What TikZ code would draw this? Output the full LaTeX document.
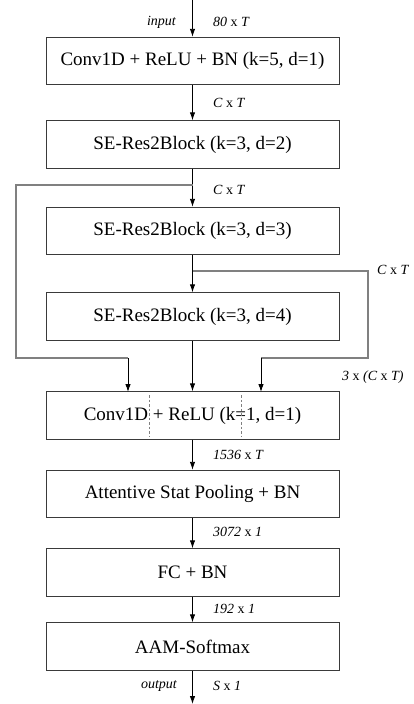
\documentclass[tikz,border=0pt]{standalone}
\usepackage{fontspec}
\setmainfont{Liberation Serif}
\usetikzlibrary{arrows.meta}
\definecolor{boxline}{HTML}{3A3A3A}
\definecolor{skipline}{HTML}{808080}
\begin{document}
\begin{tikzpicture}[x=1pt,y=-1pt,
  blk/.style={draw=boxline,line width=0.9pt,minimum width=293pt,minimum height=47.5pt,inner sep=0pt,font=\fontsize{19}{21}\selectfont},
  flow/.style={draw=black,line width=0.9pt,-{Latex[length=8pt,width=5.5pt]}},
  skipc/.style={draw=skipline,line width=1.1pt},
  lbl/.style={font=\fontsize{14}{16}\selectfont\itshape,inner sep=0pt},
  sep/.style={draw=skipline,line width=0.8pt,dashed,dash pattern=on 2.5pt off 2pt}]
\useasboundingbox (0,0) rectangle (414,704);
\node[blk] (b1) at (192.5,61) {Conv1D + ReLU + BN (k=5, d=1)};
\node[blk] (b2) at (192.5,144.5) {SE-Res2Block (k=3, d=2)};
\node[blk] (b3) at (192.5,231) {SE-Res2Block (k=3, d=3)};
\node[blk] (b4) at (192.5,316.5) {SE-Res2Block (k=3, d=4)};
\node[blk] (b5) at (192.5,415.5) {Conv1D + ReLU (k=1, d=1)};
\node[blk] (b6) at (192.5,494) {Attentive Stat Pooling + BN};
\node[blk] (b7) at (192.5,572.5) {FC + BN};
\node[blk] (b8) at (192.5,646.5) {AAM-Softmax};
% dashed separators in b5
\coordinate (d1t) at (149,395); \coordinate (d1b) at (149,437);
\coordinate (d2t) at (241,395); \coordinate (d2b) at (241,437);
\draw[sep] (d1t) -- (d1b);
\draw[sep] (d2t) -- (d2b);
% input / output
\coordinate (in) at (192.5,0);
\coordinate (out) at (192.5,704);
\draw[flow] (in) -- (b1.north);
\draw[flow] (b8.south) -- (out);
\draw[flow] (b1.south) -- (b2.north);
\draw[flow] (b2.south) -- (b3.north);
\draw[flow] (b3.south) -- (b4.north);
\draw[flow] (b4.south) -- (b5.north);
\draw[flow] (b5.south) -- (b6.north);
\draw[flow] (b6.south) -- (b7.north);
\draw[flow] (b7.south) -- (b8.north);
% skip connections
\coordinate (j1) at (192.5,185);
\coordinate (l1) at (16,185);
\coordinate (l2) at (16,358);
\coordinate (l3) at (128,358);
\coordinate (l4) at (128,392);
\draw[skipc] (j1) -- (l1) -- (l2) -- (l3);
\draw[flow] (l3) -- (l4);
\coordinate (j2) at (192.5,271);
\coordinate (r1) at (368,271);
\coordinate (r2) at (368,358);
\coordinate (r3) at (261,358);
\coordinate (r4) at (261,392);
\draw[skipc] (j2) -- (r1) -- (r2) -- (r3);
\draw[flow] (r3) -- (r4);
% labels
\node[lbl,anchor=east] (tin) at (176,22) {input};
\node[lbl,anchor=west] (t0) at (213,22) {80 {\upshape x} T};
\node[lbl,anchor=west] (t1) at (213,103) {C {\upshape x} T};
\node[lbl,anchor=west] (t2) at (213,190) {C {\upshape x} T};
\node[lbl,anchor=west] (t3) at (377,270) {C {\upshape x} T};
\node[lbl,anchor=west] (t4) at (342,377) {3 {\upshape x} (C {\upshape x} T)};
\node[lbl,anchor=west] (t5) at (213,455) {1536 {\upshape x} T};
\node[lbl,anchor=west] (t6) at (213,532) {3072 {\upshape x} 1};
\node[lbl,anchor=west] (t7) at (213,609) {192 {\upshape x} 1};
\node[lbl,anchor=east] (tout) at (177,686) {output};
\node[lbl,anchor=west] (t8) at (213,686) {S {\upshape x} 1};
\end{tikzpicture}
\end{document}
